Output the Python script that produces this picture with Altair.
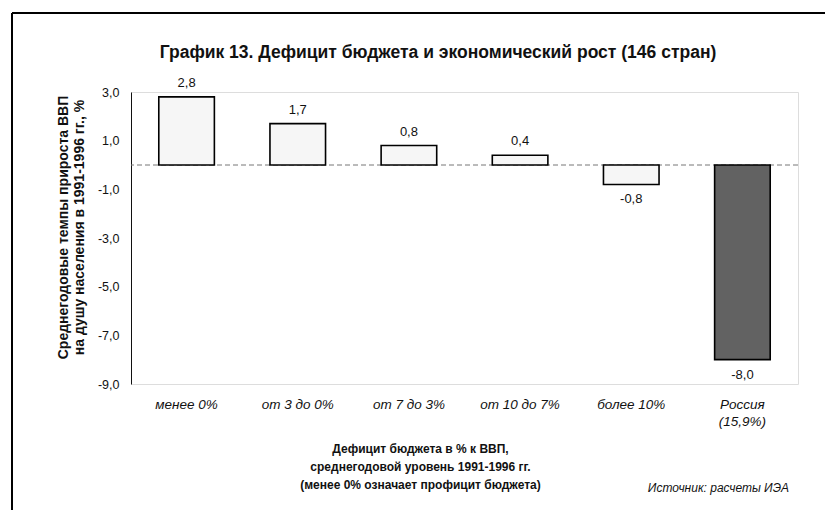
import altair as alt
import pandas as pd

categories = ["менее 0%", "от 3 до 0%", "от 7 до 3%", "от 10 до 7%", "более 10%", "Россия\n(15,9%)"]
values = [2.8, 1.7, 0.8, 0.4, -0.8, -8.0]
y_ticks = [3, 1, -1, -3, -5, -7, -9]

title_text = "График 13. Дефицит бюджета и экономический рост (146 стран)"
x_title = ["Дефицит бюджета  в % к ВВП,", "среднегодовой уровень 1991-1996 гг.", "(менее 0% означает профицит бюджета)"]
y_title = ["Среднегодовые темпы прироста ВВП", "на душу населения в 1991-1996 гг., %"]
source_text = "Источник: расчеты ИЭА"

df = pd.DataFrame({"category": categories, "value": values})
FONT = "Liberation Sans"
FMT = "replace(replace(format({v}, '.1f'), '.', ','), '\u2212', '-')"

base = alt.Chart(df).transform_calculate(label=FMT.format(v="datum.value"))

x_enc = alt.X(
    "category:N",
    sort=categories,
    scale=alt.Scale(paddingInner=0.5, paddingOuter=0.25),
    axis=alt.Axis(
        title=x_title,
        labelAngle=0,
        labelExpr="split(datum.label, '\\n')",
        labelFont=FONT,
        labelFontSize=13.5,
        labelFontStyle="italic",
        labelColor="#111",
        labelPadding=13,
        labelLineHeight=17,
        domain=False,
        ticks=False,
        titleFont=FONT,
        titleFontSize=12,
        titleFontWeight="bold",
        titleColor="#111",
        titleLineHeight=18,
        titleX=289,
        titleY=59,
        titleBaseline="top",
        titleAlign="center",
    ),
)
y_scale = alt.Scale(domain=[-9, 3], nice=False, zero=False)
y_axis = alt.Axis(
    values=y_ticks,
    labelExpr=FMT.format(v="datum.value"),
    labelFont=FONT,
    labelFontSize=12.5,
    labelColor="#111",
    labelPadding=12,
    ticks=False,
    grid=False,
    domainColor="#111",
    title=y_title,
    titleFont=FONT,
    titleFontSize=14,
    titleFontWeight="bold",
    titleColor="#111",
    titleLineHeight=16,
    titleAngle=-90,
    titleX=-68,
    titleY=135,
    titleAlign="center",
    titleBaseline="middle",
)

bars = base.mark_bar(stroke="black", strokeWidth=1.6).encode(
    x=x_enc,
    y=alt.Y("value:Q", scale=y_scale, axis=y_axis),
    y2=alt.Y2(datum=0),
    color=alt.condition(
        alt.datum.value < -5, alt.value("#626262"), alt.value("#f6f6f6")
    ),
)

zero_rule = alt.Chart(pd.DataFrame({"z": [0]})).mark_rule(
    color="#777", strokeDash=[5, 3], strokeWidth=1
).encode(y=alt.Y("z:Q", scale=y_scale))

pos_labels = base.transform_filter("datum.value >= 0").mark_text(
    baseline="alphabetic", dy=-10, font=FONT, fontSize=13, color="#111"
).encode(x=alt.X("category:N", sort=categories), y=alt.Y("value:Q", scale=y_scale), text="label:N")

neg_labels = base.transform_filter("datum.value < 0").mark_text(
    baseline="top", dy=9, font=FONT, fontSize=13, color="#111"
).encode(x=alt.X("category:N", sort=categories), y=alt.Y("value:Q", scale=y_scale), text="label:N")

one = pd.DataFrame({"k": [0]})
frame_top = alt.Chart(one).mark_rule(color="black", strokeWidth=2).encode(
    x=alt.value(-119), x2=alt.value(710), y=alt.value(-79)
)
frame_left = alt.Chart(one).mark_rule(color="black", strokeWidth=2).encode(
    x=alt.value(-119), y=alt.value(-79), y2=alt.value(430)
)
title = alt.Chart(one).mark_text(
    align="center", baseline="middle", font=FONT, fontSize=17.5, fontWeight="bold", color="#111"
).encode(x=alt.value(307), y=alt.value(-39), text=alt.value(title_text))
source = alt.Chart(one).mark_text(
    align="right", baseline="middle", font=FONT, fontSize=12, fontStyle="italic", color="#111"
).encode(x=alt.value(658), y=alt.value(396), text=alt.value(source_text))

chart = alt.layer(
    zero_rule, bars, pos_labels, neg_labels, frame_top, frame_left, title, source
).properties(
    width=667,
    height=292,
    autosize=alt.AutoSizeParams(type="none"),
    padding={"left": 123, "top": 84, "right": 27, "bottom": 126},
).configure_view(
    stroke="#444", strokeWidth=1
).configure(background="white")

chart.save("out.html", embed_options={"renderer": "svg", "actions": False})
